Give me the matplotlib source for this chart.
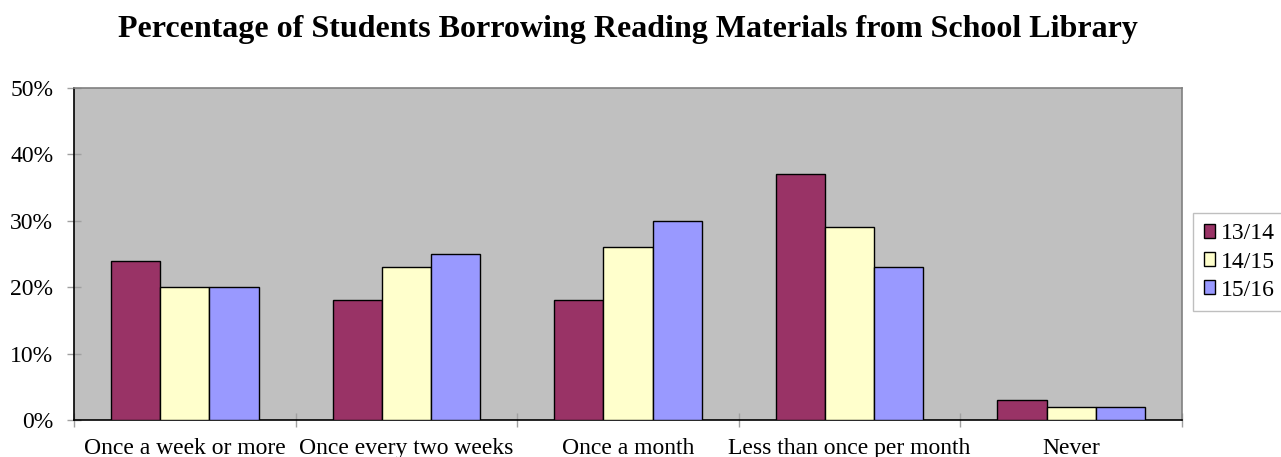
import matplotlib
matplotlib.use('Agg')
import matplotlib.pyplot as plt
import numpy as np

# ── Data ─────────────────────────────────────────────────────────────────────
categories = ['Once a week or more', 'Once every two weeks', 'Once a month',
              'Less than once per month', 'Never']
series_names = ['13/14', '14/15', '15/16']
vals_1314 = [24, 18, 18, 37, 3]
vals_1415 = [20, 23, 26, 29, 2]
vals_1516 = [20, 25, 30, 23, 2]
y_ticks = [0, 10, 20, 30, 40, 50]

colors = ['#993366', '#FFFFCC', '#9999FF']

plt.rcParams['font.family'] = ['Liberation Serif', 'DejaVu Serif']

fig = plt.figure(figsize=(12.81, 4.57), dpi=100)
ax = fig.add_axes([74/1281, 1 - 420/457, (1182 - 74)/1281, (420 - 88)/457])
ax.set_facecolor('#C0C0C0')

x = np.arange(len(categories))
w = 0.222
for i, (name, vals) in enumerate(zip(series_names, [vals_1314, vals_1415, vals_1516])):
    ax.bar(x + (i - 1) * w, vals, w, color=colors[i], edgecolor='black',
           linewidth=1.0, label=name, zorder=3)

ax.set_xlim(-0.5, len(categories) - 0.5)
ax.set_ylim(0, 50)
ax.set_yticks(y_ticks)
ax.set_yticklabels([f'{v}%' for v in y_ticks], fontsize=17)

# labels at centres, tick marks at category boundaries
ax.set_xticks(x)
ax.set_xticklabels(categories, fontsize=17)
ax.tick_params(axis='x', which='major', length=0, pad=13)
ax.set_xticks(np.arange(-0.5, len(categories)), minor=True)
ax.tick_params(axis='x', which='minor', direction='inout', length=10,
               color='#A0A0A0', width=1)
ax.tick_params(axis='y', direction='inout', length=10, color='#A0A0A0',
               width=1, pad=10)

for s in ['left', 'bottom']:
    ax.spines[s].set_color('black')
    ax.spines[s].set_linewidth(1.2)
for s in ['top', 'right']:
    ax.spines[s].set_color('#808080')
    ax.spines[s].set_linewidth(1.2)

fig.text(0.49, 1 - 29/457,
         'Percentage of Students Borrowing Reading Materials from School Library',
         ha='center', va='center', fontsize=23, fontweight='bold')

leg = ax.legend(loc='center left', bbox_to_anchor=(1193/1281, 1 - 262/457),
                bbox_transform=fig.transFigure, fontsize=17, frameon=True,
                fancybox=False, edgecolor='#B0B0B0', handlelength=0.5,
                handleheight=0.5, handletextpad=0.25, labelspacing=0.3,
                borderpad=0.45, borderaxespad=0)
leg.get_frame().set_linewidth(1.0)

plt.savefig('out.png', dpi=100)
